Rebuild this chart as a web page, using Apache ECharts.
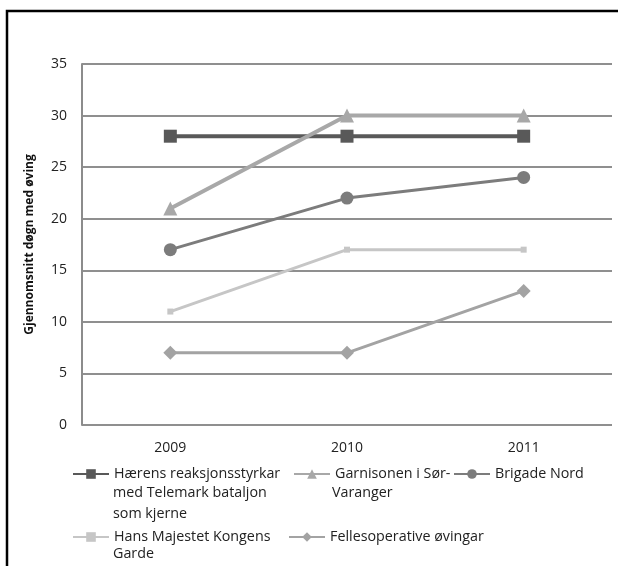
<!DOCTYPE html>
<html>
<head>
<meta charset="utf-8">
<script src="https://cdn.jsdelivr.net/npm/echarts@6/dist/echarts.min.js"></script>
<style>
  html, body { margin: 0; padding: 0; background: #fff; }
  #chart { width: 618px; height: 566px; }
</style>
</head>
<body>
<div id="chart"></div>
<script>
const years = ["2009", "2010", "2011"];
const haerens = [28, 28, 28];
const garnisonen = [21, 30, 30];
const brigadeNord = [17, 22, 24];
const kongensGarde = [11, 17, 17];
const fellesoperative = [7, 7, 13];
const names = [
  "Hærens reaksjonsstyrkar\nmed Telemark bataljon\nsom kjerne",
  "Garnisonen i Sør-\nVaranger",
  "Brigade Nord",
  "Hans Majestet Kongens\nGarde",
  "Fellesoperative øvingar"
];

const font = "Open Sans";
const legendFont = 14.3;

const chart = echarts.init(document.getElementById("chart"));

// one legend per entry, only the first line of the name; the rest is put under it
function legendFor(name, left, top) {
  return {
    data: [name],
    left: left,
    top: top,
    itemWidth: 36,
    itemHeight: 12,
    itemGap: 0,
    padding: 0,
    formatter: n => n.split("\n")[0],
    textStyle: { fontFamily: font, fontSize: legendFont, color: "#222", lineHeight: 20 }
  };
}

function moreLines(name, x, y0, step) {
  return name.split("\n").slice(1).map((line, i) => ({
    type: "text",
    left: x,
    top: y0 + i * step,
    silent: true,
    style: { text: line, fontFamily: font, fontSize: legendFont, fill: "#222" }
  }));
}

const option = {
  animation: false,
  backgroundColor: "#fff",
  grid: { left: 82, right: 6, top: 64, bottom: 141 },
  graphic: [
    {
      type: "rect",
      shape: { x: 7, y: 11, width: 640, height: 600 },
      style: { fill: "none", stroke: "#000", lineWidth: 2.5 },
      silent: true
    },
    ...moreLines(names[0], 113, 486, 21),
    ...moreLines(names[1], 332, 486, 21),
    ...moreLines(names[3], 113, 547, 20)
  ],
  legend: [
    legendFor(names[0], 72, 464),
    legendFor(names[1], 293, 464),
    legendFor(names[2], 453, 464),
    legendFor(names[3], 72, 527),
    legendFor(names[4], 288, 527)
  ],
  xAxis: {
    type: "category",
    data: years,
    boundaryGap: true,
    axisLine: { show: false },
    axisTick: { show: false },
    axisLabel: { fontFamily: font, fontSize: 14, color: "#222", margin: 16 }
  },
  yAxis: {
    type: "value",
    min: 0,
    max: 35,
    interval: 5,
    name: "Gjennomsnitt døgn med øving",
    nameLocation: "middle",
    nameGap: 46,
    nameTextStyle: { fontFamily: font, fontSize: 12, fontWeight: "bold", color: "#111" },
    axisLine: { show: true, lineStyle: { color: "#8c8c8c", width: 2 } },
    axisTick: { show: false },
    axisLabel: { fontFamily: font, fontSize: 14, color: "#222", margin: 15 },
    splitLine: { show: true, lineStyle: { color: "#8f8f8f", width: 2 } }
  },
  series: [
    {
      name: names[0],
      type: "line",
      data: haerens,
      symbol: "rect",
      symbolSize: 13,
      z: 3,
      itemStyle: { color: "#595959" },
      lineStyle: { color: "#595959", width: 4 }
    },
    {
      name: names[1],
      type: "line",
      data: garnisonen,
      symbol: "triangle",
      symbolSize: 14,
      z: 4,
      itemStyle: { color: "#a8a8a8" },
      lineStyle: { color: "#a8a8a8", width: 4 }
    },
    {
      name: names[2],
      type: "line",
      data: brigadeNord,
      symbol: "circle",
      symbolSize: 13,
      z: 3,
      itemStyle: { color: "#7c7c7c" },
      lineStyle: { color: "#7c7c7c", width: 3 }
    },
    {
      name: names[3],
      type: "line",
      data: kongensGarde,
      symbol: "rect",
      symbolSize: 6,
      z: 2,
      itemStyle: { color: "#c6c6c6" },
      lineStyle: { color: "#c6c6c6", width: 3 }
    },
    {
      name: names[4],
      type: "line",
      data: fellesoperative,
      symbol: "diamond",
      symbolSize: 14,
      z: 3,
      itemStyle: { color: "#a3a3a3" },
      lineStyle: { color: "#a3a3a3", width: 3 }
    }
  ]
};

chart.setOption(option);
</script>
</body>
</html>
